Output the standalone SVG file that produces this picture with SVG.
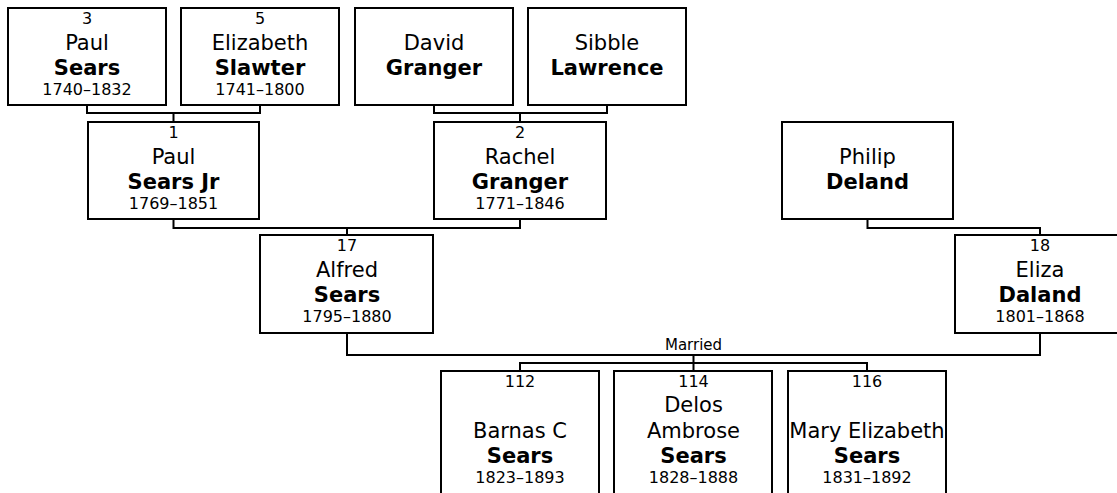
<svg xmlns="http://www.w3.org/2000/svg" width="1117" height="493" viewBox="0 0 1117 493">
<style>
  .box { fill: #ffffff; stroke: #000000; stroke-width: 2; }
  .conn { fill: none; stroke: #000000; stroke-width: 2; }
  text { font-family: "DejaVu Sans", Verdana, sans-serif; fill: #000000; text-anchor: middle; }
  .num { font-size: 16px; }
  .given { font-size: 21px; }
  .sur { font-size: 21px; font-weight: bold; }
  .date { font-size: 16px; }
  .lbl { font-size: 15px; }
</style>
<rect x="0" y="0" width="1117" height="493" fill="#ffffff"/>
<g id="connectors">
  <path class="conn" d="M87,106 V113 H260 V106 M173.5,113 V121"/>
  <path class="conn" d="M434,106 V113 H607 V106 M520,113 V121"/>
  <path class="conn" d="M173.5,220 V228 H520 V220 M347,228 V235"/>
  <path class="conn" d="M867.5,220 V228 H1040 V235"/>
  <path class="conn" d="M347,334 V355 H1040 V334"/>
  <path class="conn" d="M693.5,355 V363 M520,370 V363 H867 V370 M693.5,363 V370"/>
  <text class="lbl" x="693.5" y="350">Married</text>
</g>
<g id="p3">
  <rect class="box" x="8" y="8" width="158" height="97"/>
  <text class="num" x="87" y="24">3</text>
  <text class="given" x="87" y="50">Paul</text>
  <text class="sur" x="87" y="75">Sears</text>
  <text class="date" x="87" y="95">1740–1832</text>
</g>
<g id="p5">
  <rect class="box" x="181" y="8" width="158" height="97"/>
  <text class="num" x="260" y="24">5</text>
  <text class="given" x="260" y="50">Elizabeth</text>
  <text class="sur" x="260" y="75">Slawter</text>
  <text class="date" x="260" y="95">1741–1800</text>
</g>
<g id="david">
  <rect class="box" x="355" y="8" width="158" height="97"/>
  <text class="given" x="434" y="50">David</text>
  <text class="sur" x="434" y="75">Granger</text>
</g>
<g id="sibble">
  <rect class="box" x="528" y="8" width="158" height="97"/>
  <text class="given" x="607" y="50">Sibble</text>
  <text class="sur" x="607" y="75">Lawrence</text>
</g>
<g id="p1">
  <rect class="box" x="88" y="122" width="171" height="97"/>
  <text class="num" x="173.5" y="138">1</text>
  <text class="given" x="173.5" y="164">Paul</text>
  <text class="sur" x="173.5" y="189">Sears Jr</text>
  <text class="date" x="173.5" y="209">1769–1851</text>
</g>
<g id="p2">
  <rect class="box" x="434" y="122" width="172" height="97"/>
  <text class="num" x="520" y="138">2</text>
  <text class="given" x="520" y="164">Rachel</text>
  <text class="sur" x="520" y="189">Granger</text>
  <text class="date" x="520" y="209">1771–1846</text>
</g>
<g id="philip">
  <rect class="box" x="782" y="122" width="171" height="97"/>
  <text class="given" x="867.5" y="164">Philip</text>
  <text class="sur" x="867.5" y="189">Deland</text>
</g>
<g id="p17">
  <rect class="box" x="260" y="235" width="173" height="98"/>
  <text class="num" x="347" y="251">17</text>
  <text class="given" x="347" y="277">Alfred</text>
  <text class="sur" x="347" y="302">Sears</text>
  <text class="date" x="347" y="322">1795–1880</text>
</g>
<g id="p18">
  <rect class="box" x="955" y="235" width="171" height="98"/>
  <text class="num" x="1040" y="251">18</text>
  <text class="given" x="1040" y="277">Eliza</text>
  <text class="sur" x="1040" y="302">Daland</text>
  <text class="date" x="1040" y="322">1801–1868</text>
</g>
<g id="p112">
  <rect class="box" x="441" y="371" width="158" height="124"/>
  <text class="num" x="520" y="387">112</text>
  <text class="given" x="520" y="438">Barnas C</text>
  <text class="sur" x="520" y="463">Sears</text>
  <text class="date" x="520" y="483">1823–1893</text>
</g>
<g id="p114">
  <rect class="box" x="614" y="371" width="158" height="124"/>
  <text class="num" x="693.5" y="387">114</text>
  <text class="given" x="693.5" y="412">Delos</text>
  <text class="given" x="693.5" y="438">Ambrose</text>
  <text class="sur" x="693.5" y="463">Sears</text>
  <text class="date" x="693.5" y="483">1828–1888</text>
</g>
<g id="p116">
  <rect class="box" x="788" y="371" width="158" height="124"/>
  <text class="num" x="867" y="387">116</text>
  <text class="given" x="867" y="438">Mary Elizabeth</text>
  <text class="sur" x="867" y="463">Sears</text>
  <text class="date" x="867" y="483">1831–1892</text>
</g>
</svg>
